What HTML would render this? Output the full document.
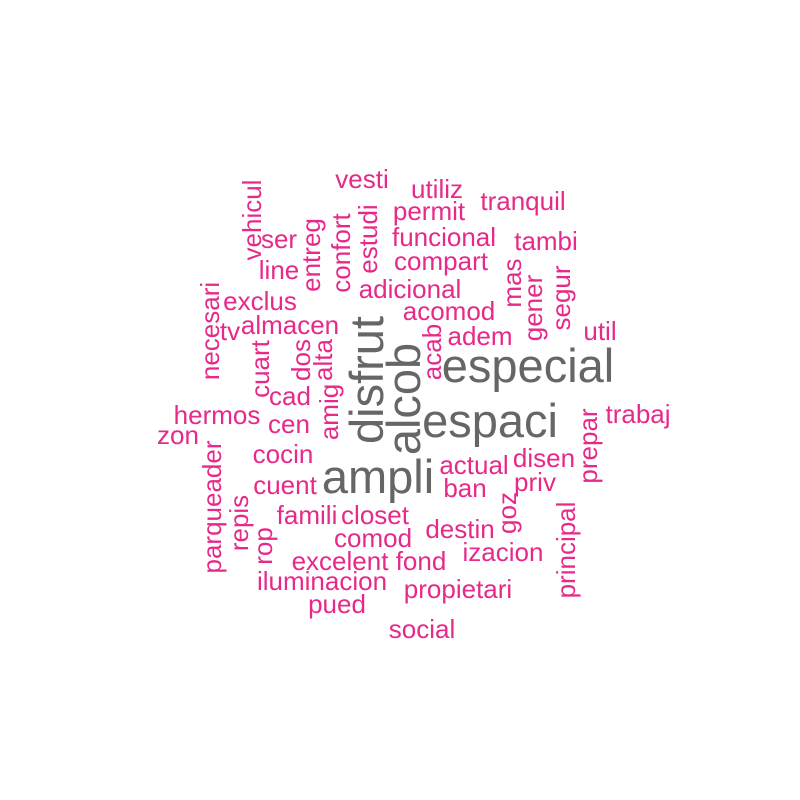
<!DOCTYPE html>
<html><head><meta charset="utf-8"><style>
html,body{margin:0;padding:0;background:#fff;width:800px;height:800px;overflow:hidden}
svg text{font-family:"Liberation Sans",Arial,sans-serif}
</style></head><body>
<svg id="cloud" width="800" height="800" viewBox="0 0 800 800" xmlns="http://www.w3.org/2000/svg"></svg>
<script>
const words = ["vesti","utiliz","tranquil","permit","funcional","tambi","compart","ser","line","exclus","adicional","acomod","adem","util","almacen","tv","cad","cen","hermos","zon","cocin","cuent","famili","closet","comod","excelent","fond","iluminacion","pued","social","propietari","izacion","destin","ban","actual","disen","priv","trabaj","especial","espaci","ampli",
"vehicul","entreg","confort","estudi","necesari","cuart","dos","alta","amig","mas","gener","segur","acab","prepar","goz","principal","parqueader","repis","rop","disfrut","alcob"];
const freq = [1,1,1,1,1,1,1,1,1,1,1,1,1,1,1,1,1,1,1,1,1,1,1,1,1,1,1,1,1,1,1,1,1,1,1,1,1,1,3,3,3,
1,1,1,1,1,1,1,1,1,1,1,1,1,1,1,1,1,1,1,3,3];
const rotated = [0,0,0,0,0,0,0,0,0,0,0,0,0,0,0,0,0,0,0,0,0,0,0,0,0,0,0,0,0,0,0,0,0,0,0,0,0,0,0,0,0,
1,1,1,1,1,1,1,1,1,1,1,1,1,1,1,1,1,1,1,1,1];
const layout = [[362,188],[437,198],[523,210],[429,220],[444,246],[546,250],[441,270],[279,248],[279,279],[260,310],[410,298],[449,320],[480,345],[600,340],[290,334],[230,340],[290,405],[289,433],[217,424],[178,444],[283,463],[285,494],[307,524],[375,524],[373,547],[340,570],[421,570],[322,590],[337,613],[422,638],[458,598],[503,561],[460,538],[465,497],[474,474],[544,467],[535,491],[638,423],[528,382],[490,437],[378,493],
[261,220],[320,255],[350,253],[377,239],[219,331],[269,369],[310,360],[332,360],[338,412],[521,283],[542,308],[570,298],[441,352],[597,446],[516,513],[575,550],[221,507],[248,523],[272,546],[383,380],[420,399]];
const svg = document.getElementById('cloud');
const NS = "http://www.w3.org/2000/svg";
words.forEach((w,i)=>{
  const t = document.createElementNS(NS,'text');
  
  
  const big = freq[i] > 1;
  t.setAttribute('font-size', big ? 47 : 26);
  t.setAttribute('fill', big ? '#666666' : '#e7298a');
  t.setAttribute('text-anchor','middle');
  const [x,y] = layout[i];
  t.setAttribute('transform', rotated[i] ? `translate(${x},${y}) rotate(-90)` : `translate(${x},${y})`);
  t.textContent = w;
  svg.appendChild(t);
});
</script>
</body></html>
